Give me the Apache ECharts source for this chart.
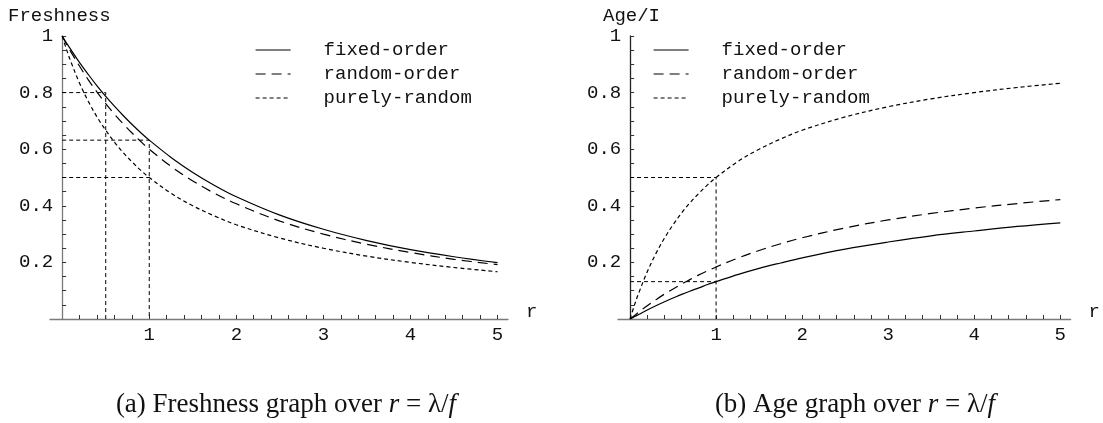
<!DOCTYPE html>
<html>
<head>
<meta charset="utf-8">
<script src="https://cdn.jsdelivr.net/npm/echarts@6/dist/echarts.min.js"></script>
<style>
  html, body { margin: 0; padding: 0; background: #fff; }
  #chart { width: 1103px; height: 423px; }
</style>
</head>
<body>
<div id="chart"></div>
<script>
// r = lambda / f
const rValues = [0, 0.05, 0.1, 0.2, 0.3, 0.4, 0.5, 0.6, 0.7, 0.8, 0.9, 1, 1.25, 1.5, 1.75, 2, 2.5, 3, 3.5, 4, 4.5, 5];

// (a) freshness
const freshFixed = [1, 0.975, 0.952, 0.906, 0.864, 0.824, 0.787, 0.752, 0.719, 0.688, 0.659, 0.632, 0.571, 0.518, 0.472, 0.432, 0.367, 0.317, 0.277, 0.245, 0.220, 0.199];
const freshRandomOrder = [1, 0.971, 0.944, 0.893, 0.845, 0.802, 0.761, 0.724, 0.690, 0.658, 0.628, 0.600, 0.539, 0.488, 0.444, 0.407, 0.346, 0.300, 0.264, 0.235, 0.211, 0.192];
const freshPurelyRandom = [1, 0.952, 0.909, 0.833, 0.769, 0.714, 0.667, 0.625, 0.588, 0.556, 0.526, 0.500, 0.444, 0.400, 0.364, 0.333, 0.286, 0.250, 0.222, 0.200, 0.182, 0.167];

// (b) age / I
const ageFixed = [0, 0.008, 0.016, 0.032, 0.047, 0.061, 0.074, 0.087, 0.099, 0.110, 0.122, 0.132, 0.157, 0.179, 0.198, 0.216, 0.247, 0.272, 0.294, 0.311, 0.327, 0.340];
const ageRandomOrder = [0, 0.012, 0.024, 0.047, 0.068, 0.088, 0.106, 0.124, 0.140, 0.156, 0.170, 0.184, 0.215, 0.242, 0.266, 0.287, 0.322, 0.350, 0.373, 0.392, 0.408, 0.422];
const agePurelyRandom = [0, 0.048, 0.091, 0.167, 0.231, 0.286, 0.333, 0.375, 0.412, 0.444, 0.474, 0.500, 0.556, 0.600, 0.636, 0.667, 0.714, 0.750, 0.778, 0.800, 0.818, 0.833];

// dashed guide lines
const freshGuide1 = [[0, 0.8], [0.5, 0.8], [0.5, 0]];
const freshGuide2 = [[0, 0.632], [1, 0.632], [1, 0]];
const freshGuide3 = [[0, 0.5], [1, 0.5]];
const ageGuide1 = [[0, 0.5], [1, 0.5], [1, 0]];
const ageGuide2 = [[0, 0.132], [1, 0.132]];

// ticks
const xLabelTicks = [1, 2, 3, 4, 5];
const xTicks = [0.2, 0.4, 0.6, 0.8, 1, 1.2, 1.4, 1.6, 1.8, 2, 2.2, 2.4, 2.6, 2.8, 3, 3.2, 3.4, 3.6, 3.8, 4, 4.2, 4.4, 4.6, 4.8, 5];
const yLabelTicks = [0.2, 0.4, 0.6, 0.8, 1];
const yTicks = [0.05, 0.1, 0.15, 0.2, 0.25, 0.3, 0.35, 0.4, 0.45, 0.5, 0.55, 0.6, 0.65, 0.7, 0.75, 0.8, 0.85, 0.9, 0.95, 1];

const seriesNames = ['fixed-order', 'random-order', 'purely-random'];

const mono = 'Courier New, Courier, Liberation Mono, monospace';
const serif = 'Liberation Serif, serif';
const axisGray = '#7a7a7a';
const xMin = -0.14, xMax = 5.12, gridW = 458;
// the y axis sits at r = 0, a little inside the grid
const yOffset = -(0 - xMin) * gridW / (xMax - xMin);

const zip = (ys) => rValues.map((r, i) => [r, ys[i]]);

function xAxisOpt(gridIndex) {
  return {
    type: 'value', gridIndex: gridIndex, min: xMin, max: xMax,
    name: 'r', nameLocation: 'end', nameGap: 18,
    nameTextStyle: { fontFamily: mono, fontSize: 19, color: '#111', verticalAlign: 'bottom', padding: [0, 0, -2, 0] },
    axisLine: { onZero: false, lineStyle: { color: axisGray, width: 1.3 } },
    axisTick: { inside: true, length: 4, customValues: xTicks, lineStyle: { color: '#333' } },
    axisLabel: { customValues: xLabelTicks, fontFamily: mono, fontSize: 19, color: '#111', margin: 6 },
    splitLine: { show: false }
  };
}

function yAxisOpt(gridIndex, lineColor) {
  return {
    type: 'value', gridIndex: gridIndex, min: 0, max: 1, offset: yOffset,
    axisLine: { show: true, onZero: false, lineStyle: { color: lineColor, width: 1.3 } },
    axisTick: { inside: true, length: 4, customValues: yTicks, lineStyle: { color: '#333' } },
    axisLabel: { customValues: yLabelTicks, fontFamily: mono, fontSize: 19, color: '#111', margin: 9 },
    splitLine: { show: false }
  };
}

function curve(name, data, idx, dash) {
  return {
    name: name, type: 'line', xAxisIndex: idx, yAxisIndex: idx,
    data: zip(data), symbol: 'none', smooth: 0.35,
    lineStyle: { color: '#000', width: 1.2, type: dash },
    itemStyle: { color: '#000' }
  };
}

function guide(data, idx) {
  return {
    type: 'line', xAxisIndex: idx, yAxisIndex: idx, data: data,
    symbol: 'none', silent: true,
    lineStyle: { color: '#000', width: 1, type: [4, 3] }
  };
}

function legendOpt(left) {
  return {
    data: seriesNames, orient: 'vertical', left: left, top: 35,
    itemWidth: 35, itemHeight: 12, itemGap: 4,
    selectedMode: false,
    itemStyle: { color: 'rgba(0,0,0,0)', borderColor: 'rgba(0,0,0,0)', borderWidth: 0 },
    lineStyle: { width: 1.2 },
    textStyle: { fontFamily: mono, fontSize: 19, color: '#111', lineHeight: 20, padding: [0, 0, 0, 28] }
  };
}

const captionRich = {
  a: { fontFamily: serif, fontSize: 27, fontWeight: 'normal', color: '#111' },
  i: { fontFamily: serif, fontSize: 27, fontWeight: 'normal', fontStyle: 'italic', color: '#111' }
};

const chart = echarts.init(document.getElementById('chart'), null, { renderer: 'canvas' });
chart.setOption({
  animation: false,
  backgroundColor: '#fff',
  title: [
    { text: 'Freshness', left: 3, top: 1, textStyle: { fontFamily: mono, fontSize: 19, fontWeight: 'normal', color: '#111' } },
    { text: 'Age/I', left: 598, top: 1, textStyle: { fontFamily: mono, fontSize: 19, fontWeight: 'normal', color: '#111' } },
    { text: '{a|(a) Freshness graph over }{i|r}{a| = λ/}{i|f}', left: 281, top: 386, textAlign: 'center', textStyle: { fontWeight: 'normal', rich: captionRich } },
    { text: '{a|(b) Age graph over }{i|r}{a| = λ/}{i|f}', left: 850, top: 386, textAlign: 'center', textStyle: { fontWeight: 'normal', rich: captionRich } }
  ],
  legend: [legendOpt(250), legendOpt(648)],
  grid: [
    { left: 50, top: 36, width: gridW, height: 283 },
    { left: 618, top: 36, width: gridW, height: 283 }
  ],
  xAxis: [xAxisOpt(0), xAxisOpt(1)],
  yAxis: [yAxisOpt(0, axisGray), yAxisOpt(1, '#222')],
  series: [
    guide(freshGuide1, 0),
    guide(freshGuide2, 0),
    guide(freshGuide3, 0),
    curve('fixed-order', freshFixed, 0, 'solid'),
    curve('random-order', freshRandomOrder, 0, [10, 6]),
    curve('purely-random', freshPurelyRandom, 0, [4, 3]),
    guide(ageGuide1, 1),
    guide(ageGuide2, 1),
    curve('fixed-order', ageFixed, 1, 'solid'),
    curve('random-order', ageRandomOrder, 1, [10, 6]),
    curve('purely-random', agePurelyRandom, 1, [4, 3])
  ]
});
</script>
</body>
</html>
